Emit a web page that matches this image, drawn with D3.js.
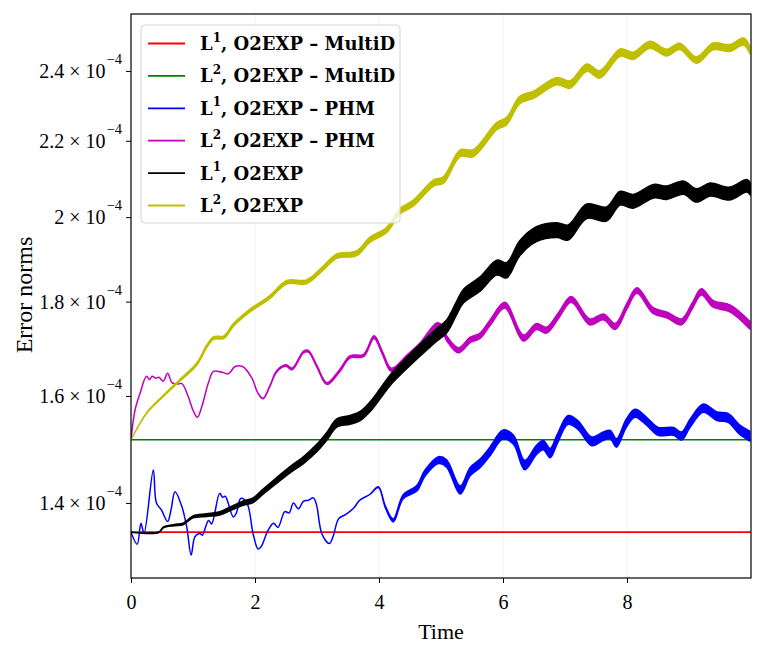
<!DOCTYPE html>
<html>
<head>
<meta charset="utf-8">
<script src="https://cdn.jsdelivr.net/npm/d3@7"></script>
<style>
  body { margin: 0; background: #fff; }
</style>
</head>
<body>
<div id="chart"></div>
<script>
// values are in units of 1e-4
var multiDTime = [0, 10];
var l1MultiD = [1.35, 1.35];
var l2MultiD = [1.515, 1.515];

var phmL1Time = [0, 0.10, 0.16, 0.21, 0.36, 0.41, 0.49, 0.59, 0.645, 0.71, 0.82, 0.90, 0.97, 1.03, 1.11, 1.15,
                 1.25, 1.30, 1.43, 1.48, 1.52, 1.65, 1.70, 1.77, 1.87, 1.97, 2.05, 2.10, 2.21, 2.30, 2.37, 2.48,
                 2.55, 2.62, 2.70, 2.78, 2.86, 2.94, 2.99, 3.08, 3.20, 3.26, 3.35, 3.46, 3.59, 3.69, 3.85, 3.99,
                 4.10, 4.23, 4.39, 4.61, 4.74, 4.96, 5.09, 5.31, 5.47, 5.63, 5.79, 6.00, 6.17, 6.35, 6.54, 6.65,
                 6.76, 6.87, 7.05, 7.21, 7.43, 7.62, 7.73, 7.83, 7.99, 8.13, 8.32, 8.50, 8.75, 8.88, 9.02, 9.23,
                 9.45, 9.63, 9.82, 9.98];
var phmL1 = [1.35, 1.33, 1.365, 1.348, 1.459, 1.40, 1.388, 1.368, 1.388, 1.42, 1.394, 1.358, 1.312, 1.342, 1.348, 1.345,
             1.37, 1.364, 1.417, 1.41, 1.412, 1.376, 1.383, 1.408, 1.40, 1.347, 1.322, 1.326, 1.353, 1.365, 1.358, 1.385,
             1.383, 1.40, 1.39, 1.403, 1.405, 1.409, 1.398, 1.347, 1.331, 1.343, 1.373, 1.38, 1.391, 1.405, 1.415, 1.428,
             1.394, 1.37, 1.411, 1.426, 1.453, 1.477, 1.471, 1.423, 1.456, 1.471, 1.493, 1.525, 1.515, 1.468, 1.496, 1.505,
             1.49, 1.515, 1.553, 1.543, 1.512, 1.522, 1.525, 1.509, 1.547, 1.566, 1.55, 1.531, 1.531, 1.522, 1.547, 1.576,
             1.56, 1.557, 1.534, 1.522];
var phmL1SpreadT = [0, 3.9, 4.2, 4.5, 5, 6, 7, 8, 9, 10];
var phmL1Spread = [0, 0, 0.0023, 0.0045, 0.0066, 0.0086, 0.0086, 0.0077, 0.0076, 0.0094];

var phmL2Time = [0, 0.065, 0.145, 0.25, 0.30, 0.34, 0.40, 0.45, 0.52, 0.59, 0.66, 0.74, 0.82, 0.92, 1.00, 1.07,
                 1.14, 1.25, 1.33, 1.47, 1.57, 1.68, 1.80, 1.95, 2.05, 2.13, 2.24, 2.35, 2.50, 2.60, 2.78, 2.86,
                 3.00, 3.16, 3.37, 3.53, 3.75, 3.92, 4.05, 4.20, 4.45, 4.66, 4.93, 5.00, 5.09, 5.28, 5.47, 5.63,
                 5.80, 6.03, 6.33, 6.54, 6.70, 6.90, 7.10, 7.40, 7.62, 7.81, 8.00, 8.16, 8.42, 8.65, 8.88, 9.05,
                 9.20, 9.39, 9.66, 9.98];
var phmL2 = [1.515, 1.572, 1.605, 1.64, 1.633, 1.64, 1.636, 1.638, 1.63, 1.646, 1.627, 1.624, 1.625, 1.60, 1.572, 1.558,
             1.578, 1.627, 1.65, 1.648, 1.645, 1.66, 1.66, 1.636, 1.605, 1.595, 1.62, 1.65, 1.662, 1.655, 1.69, 1.692,
             1.66, 1.625, 1.652, 1.68, 1.683, 1.722, 1.69, 1.653, 1.68, 1.705, 1.748, 1.745, 1.72, 1.694, 1.716, 1.725,
             1.755, 1.792, 1.72, 1.745, 1.737, 1.77, 1.805, 1.755, 1.766, 1.745, 1.79, 1.825, 1.78, 1.77, 1.755, 1.79,
             1.822, 1.795, 1.785, 1.748];
var phmL2SpreadT = [0, 2, 2.5, 3, 4, 4.5, 5, 6, 7, 8, 9, 10];
var phmL2Spread = [0, 0, 0.0016, 0.0018, 0.0028, 0.0039, 0.0051, 0.0064, 0.0064, 0.0064, 0.0064, 0.0086];

var o2L1Time = [0, 0.45, 0.52, 0.70, 0.84, 1.00, 1.22, 1.43, 1.60, 1.81, 1.97, 2.13, 2.35, 2.56, 2.78, 3.00,
                3.16, 3.32, 3.53, 3.69, 3.85, 4.02, 4.18, 4.39, 4.66, 4.93, 5.09, 5.25, 5.36, 5.63, 5.90, 6.06,
                6.27, 6.54, 6.87, 7.05, 7.35, 7.67, 7.89, 8.10, 8.43, 8.64, 8.91, 9.12, 9.34, 9.66, 9.93, 9.99];
var o2L1 = [1.35, 1.35, 1.358, 1.362, 1.364, 1.376, 1.379, 1.382, 1.39, 1.40, 1.405, 1.42, 1.44, 1.459, 1.477, 1.50,
            1.522, 1.547, 1.553, 1.56, 1.578, 1.605, 1.632, 1.66, 1.694, 1.727, 1.745, 1.785, 1.812, 1.84, 1.878, 1.872,
            1.924, 1.958, 1.968, 1.962, 2.015, 2.008, 2.048, 2.04, 2.066, 2.062, 2.075, 2.055, 2.07, 2.06, 2.08, 2.072];
var o2L1SpreadT = [0, 0.5, 1, 2, 3, 4, 5, 6, 7, 8, 9, 10];
var o2L1Spread = [0, 0.0006, 0.0017, 0.0042, 0.0069, 0.0100, 0.0138, 0.0178, 0.0185, 0.0175, 0.0172, 0.0160];

var o2L2Time = [0, 0.25, 0.52, 0.79, 1.06, 1.22, 1.33, 1.50, 1.65, 1.92, 2.24, 2.51, 2.83, 3.10, 3.32, 3.64,
                3.85, 4.12, 4.34, 4.55, 4.88, 5.04, 5.31, 5.52, 5.90, 6.06, 6.27, 6.49, 6.87, 7.08, 7.35, 7.56,
                7.89, 8.10, 8.37, 8.64, 8.85, 9.12, 9.39, 9.66, 9.88, 9.98];
var o2L2 = [1.515, 1.566, 1.60, 1.632, 1.665, 1.702, 1.72, 1.722, 1.748, 1.78, 1.81, 1.844, 1.845, 1.877, 1.905, 1.912,
            1.944, 1.968, 2.015, 2.035, 2.087, 2.095, 2.166, 2.166, 2.241, 2.255, 2.315, 2.33, 2.37, 2.36, 2.41, 2.39,
            2.456, 2.446, 2.48, 2.456, 2.475, 2.433, 2.475, 2.47, 2.49, 2.464];
var o2L2SpreadT = [0, 1, 2, 3, 4, 5, 6, 7, 8, 9, 10];
var o2L2Spread = [0, 0.0024, 0.0032, 0.0047, 0.0063, 0.0083, 0.0104, 0.011, 0.0113, 0.0097, 0.0114];

var seriesNames = ['L1MultiD', 'L2MultiD', 'L1PHM', 'L2PHM', 'L1O2', 'L2O2'];
var legendNorm = ['1', '2', '1', '2', '1', '2'];
var legendRest = [', O2EXP \u2013 MultiD', ', O2EXP \u2013 MultiD', ', O2EXP \u2013 PHM',
                  ', O2EXP \u2013 PHM', ', O2EXP', ', O2EXP'];
var seriesColors = ['#ff0000', '#008000', '#0000ff', '#bf00bf', '#000000', '#bfbf00'];

var xTicks = [0, 2, 4, 6, 8];
var yTicks = [1.4, 1.6, 1.8, 2.0, 2.2, 2.4];
var yTickMant = ['1.4', '1.6', '1.8', '2', '2.2', '2.4'];

var serif = '"Liberation Serif", serif';
var width = 763, height = 658;
var margin = {left: 131, top: 14, right: 12, bottom: 80};
var pw = width - margin.left - margin.right,
    ph = height - margin.top - margin.bottom;

var svg = d3.select('#chart').append('svg')
    .attr('width', width)
    .attr('height', height);

var x = d3.scaleLinear().domain([0, 10]).range([margin.left, margin.left + pw]);
var y = d3.scaleLog().domain([1.275, 2.577]).range([margin.top + ph, margin.top]);

svg.append('defs').append('clipPath').attr('id', 'plotclip')
    .append('rect')
    .attr('x', margin.left).attr('y', margin.top)
    .attr('width', pw).attr('height', ph);

// faint grid at x ticks
svg.append('g').selectAll('line')
    .data(xTicks.slice(1))
    .enter().append('line')
    .attr('x1', d => x(d)).attr('x2', d => x(d))
    .attr('y1', margin.top).attr('y2', margin.top + ph)
    .attr('stroke', '#f3f3f3')
    .attr('stroke-width', 1);

function makeSeries(ts, vs, spT, spV) {
    var spread = d3.scaleLinear().domain(spT || [0, 10]).range(spV || [0, 0]).clamp(true);
    return ts.map((t, i) => ({t: t, v: vs[i], s: spread(t)}));
}

var allSeries = [
    makeSeries(multiDTime, l1MultiD),
    makeSeries(multiDTime, l2MultiD),
    makeSeries(phmL1Time, phmL1, phmL1SpreadT, phmL1Spread),
    makeSeries(phmL2Time, phmL2, phmL2SpreadT, phmL2Spread),
    makeSeries(o2L1Time, o2L1, o2L1SpreadT, o2L1Spread),
    makeSeries(o2L2Time, o2L2, o2L2SpreadT, o2L2Spread)
];

var curve = d3.curveCatmullRom.alpha(0.5);

var band = d3.area()
    .x(d => x(d.t))
    .y0(d => y(d.v - d.s))
    .y1(d => y(d.v + d.s))
    .curve(curve);

var plot = svg.append('g').attr('clip-path', 'url(#plotclip)');

allSeries.forEach(function(data, i) {
    plot.append('path')
        .attr('class', 'series ' + seriesNames[i])
        .attr('d', band(data))
        .attr('fill', seriesColors[i])
        .attr('stroke', seriesColors[i])
        .attr('stroke-width', i < 2 ? 1.7 : 1.5)
        .attr('stroke-linejoin', 'round');
});

// axes
var xAxis = svg.append('g')
    .attr('transform', 'translate(0,' + (margin.top + ph) + ')')
    .call(d3.axisBottom(x).tickValues(xTicks).tickSize(5).tickPadding(12).tickFormat(d3.format('d')));

var yAxis = svg.append('g')
    .attr('transform', 'translate(' + margin.left + ',0)')
    .call(d3.axisLeft(y).tickValues(yTicks).tickSize(5).tickPadding(4).tickFormat(''));

[xAxis, yAxis].forEach(function(a) {
    a.select('.domain').remove();
    a.selectAll('.tick line').attr('stroke', '#000').attr('stroke-width', 1);
    a.selectAll('text').style('font-family', serif).style('font-size', '20px').attr('fill', '#000');
});

yAxis.selectAll('.tick').each(function(d, i) {
    var t = d3.select(this).select('text')
        .attr('dy', '0.34em');
    t.append('tspan').text(yTickMant[i] + ' \u00d7 10');
    t.append('tspan')
        .style('font-size', '14.5px')
        .attr('dx', 1)
        .attr('dy', -14)
        .text('\u22124');
});

// frame
svg.append('rect')
    .attr('x', margin.left).attr('y', margin.top)
    .attr('width', pw).attr('height', ph)
    .attr('fill', 'none')
    .attr('stroke', '#000')
    .attr('stroke-width', 1.2);

// axis titles
svg.append('text')
    .attr('x', margin.left + pw / 2)
    .attr('y', 639)
    .attr('text-anchor', 'middle')
    .style('font-family', serif)
    .style('font-size', '22px')
    .text('Time');

svg.append('text')
    .attr('transform', 'translate(32,295) rotate(-90)')
    .attr('text-anchor', 'middle')
    .style('font-family', serif)
    .style('font-size', '24px')
    .text('Error norms');

// legend
var legend = svg.append('g').attr('transform', 'translate(141,25)');
legend.append('rect')
    .attr('width', 259).attr('height', 198)
    .attr('rx', 4)
    .attr('fill', 'rgba(255,255,255,0.8)')
    .attr('stroke', '#d4d4d4')
    .attr('stroke-width', 1);

var items = legend.selectAll('.item')
    .data(seriesNames)
    .enter().append('g')
    .attr('class', 'item')
    .attr('transform', (d, i) => 'translate(0,' + (18.5 + i * 32.4) + ')');

items.append('line')
    .attr('x1', 7).attr('x2', 44)
    .attr('stroke', (d, i) => seriesColors[i])
    .attr('stroke-width', 1.8);

var lt = items.append('text')
    .attr('x', 59)
    .attr('dy', '0.36em')
    .style('font-family', '"DejaVu Serif", serif')
    .style('font-size', '18px')
    .style('font-weight', 'bold');
lt.append('tspan').text('L');
lt.append('tspan').style('font-size', '12px').attr('dy', '-0.7em').text((d, i) => legendNorm[i]);
lt.append('tspan').attr('dy', '0.47em').text((d, i) => legendRest[i]);
</script>
</body>
</html>
